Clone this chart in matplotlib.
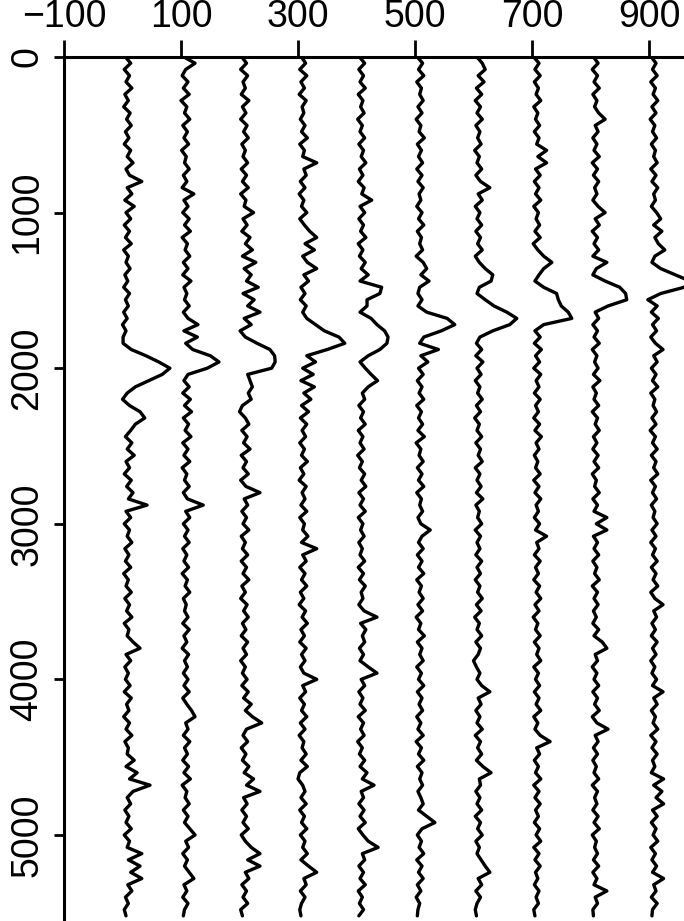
import numpy as np
import matplotlib
matplotlib.use("Agg")
import matplotlib.pyplot as plt
from matplotlib import font_manager

# ---------------- data (offsets, x-units) ----------------
trace_positions = [0, 100, 200, 300, 400, 500, 600, 700, 800, 900]
depth_step = 40
x_ticks = [-100, 100, 300, 500, 700, 900]
y_ticks = [0, 1000, 2000, 3000, 4000, 5000]

trace_0 = [5, 14, 3, 12, 6, 16, 4, 10, 2, 13, 7, 15, 5, 11, 3, 14, 8, 18, 6, 12,
           33, 8, 16, 4, 20, 6, 14, 3, 12, 5, 15, 2, 10, 6, 13, 4, 9, 2, 12, 5,
           10, 2, 8, 0, 6, 1,
           1, 15, 40, 62, 81, 68, 45, 22, 8, 0, 12, 30, 38, 22, 14,
           5, 16, 8, 20, 6, 12, 3, 15, 7, 18, 10, 42, 6, 14, 3, 12, 8, 16, 4,
           11, 5, 14, 2, 10, 6, 15, 4, 12, 7, 16, 3, 11, 8, 18, 30, 6, 14, 4, 10,
           5, 13, 3, 15, 7, 11, 2, 12, 6, 16, 4, 10, 8, 20, 6, 25, 12, 47, 18, 8,
           14, 4, 11, 6, 15, 3, 12, 8, 33, 10, 30, 14, 33, 9, 16, 5, 10, 3, 6]

trace_1 = [5, 24, 8, 2, 12, 4, 14, 0, 10, 6, 15, 3, 11, 5, 13, 1, 9, 6, 14, 4,
           10, 2, 22, 5, 12, 3, 14, 6, 16, 2, 11, 7, 15, 4, 12, 3, 17, 5, 10, 6,
           14, 4, 12, 29, 5, 28, 8,
           20, 50, 65, 45, 12, 5,
           14, 3, 16, 6, 18, 4, 13, 7, 17, 3, 12, 5, 15, 2, 10, 6, 14, 4, 11,
           38, 8, 15, 4, 12, 6, 14, 3, 10, 5, 13, 2, 11, 7, 15, 4, 9, 6, 12, 3, 14, 5, 10, 2, 13, 6, 11, 4,
           12, 5, 14, 3, 10, 18, 24, 8, 12, 4, 15, 6, 11, 3, 13, 5, 16, 2, 10, 7,
           14, 4, 12, 6, 15, 24, 8, 13, 3, 11, 6, 14, 22, 5, 10, 3, 12, 6, 4]

trace_2 = [4, 12, 2, 14, 6, 10, 3, 16, 5, 11, 2, 13, 7, 15, 4, 10, 6, 14, 3, 12,
           5, 15, 2, 11, 8, 24, 6, 13, 4, 18, 10, 22, 5, 28, 8, 20, 12, 32, 6, 25, 14, 35, 8, 20,
           1, 10, 30, 52, 60, 61, 55, 14, 18, 22, 15, 20, 5, 0, 10,
           16, 4, 13, 7, 18, 3, 12, 6, 15, 2, 11, 35, 8, 14, 4, 12, 6, 16, 3, 10, 5,
           14, 3, 12, 6, 16, 4, 10, 2, 13, 7, 15, 5, 11, 3, 14, 6, 12, 2, 10, 5,
           13, 4, 15, 7, 20, 10, 22, 38, 12, 6, 14, 3, 11, 5, 16, 8, 24, 12, 35, 7,
           13, 4, 12, 6, 15, 3, 10, 20, 35, 14, 35, 10, 16, 4, 12, 6, 14, 2, 5]

trace_3 = [6, 13, 3, 15, 5, 11, 2, 14, 7, 10, 4, 12, 6, 16, 3, 11, 8, 32, 10, 14,
           4, 12, 2, 10, 6, 15, 3, 11, 20, 32, 12, 28, 8, 16, 32, 10, 18, 5, 12, 4, 14, 8,
           15, 30, 45, 70, 80, 50, 15,
           30, 8, 26, 5, 28, 10, 22, 6, 18, 4, 15, 7,
           13, 3, 11, 6, 16, 4, 10, 2, 14, 7, 12, 5, 15, 3, 11, 8, 17, 6, 32,
           8, 14, 3, 12, 6, 15, 4, 10, 2, 13, 7, 16, 5, 11, 3, 14, 6, 12, 4, 10,
           32, 8, 13, 3, 11, 6, 15, 4, 12, 2, 10, 7, 14, 5, 16, 3, 0, 8, 12, 5,
           14, 3, 11, 6, 15, 4, 12, 8, 16, 5, 18, 32, 10, 14, 4, 12, 6, 3, 5]

trace_4 = [5, 14, 4, 12, 6, 15, 3, 11, 7, 13, 2, 10, 6, 14, 4, 12, 8, 16, 5, 11,
           3, 13, 9, 26, 6, 14, 4, 12, 7, 16, 3, 11, 5, 15, 8, 20, 6, 43, 40, 18,
           18, 6, 25, 35, 48, 54, 52, 40, 20, 6, 15, 25, 36, 20, 10,
           14, 4, 12, 7, 15, 3, 11, 6, 13, 2, 10, 5, 14, 8, 16, 4, 12, 6, 15, 3, 11, 7, 13, 4, 10,
           6, 14, 3, 12, 5, 15, 8, 11, 4, 13, 35, 7, 16, 10, 14, 5, 12, 6, 20, 35,
           8, 14, 4, 11, 6, 15, 3, 12, 7, 13, 2, 10, 5, 14, 6, 18, 10, 30, 8, 12,
           4, 13, 6, 15, 3, 11, 20, 37, 10, 14, 4, 12, 6, 15, 3, 10, 5, 12, 4]

trace_5 = [4, 13, 6, 15, 3, 11, 8, 14, 5, 12, 2, 10, 7, 16, 4, 11, 6, 13, 3, 12,
           5, 14, 7, 10, 3, 12, 6, 15, 4, 11, 8, 13, 2, 14, 20, 10, 24, 8, 5, 12, 5,
           20, 55, 68, 45, 15, 8, 40, 10, 22, 6,
           14, 4, 12, 7, 15, 3, 11, 6, 13, 5, 16, 2, 10, 7, 14, 4, 12, 6, 15, 3,
           11, 8, 13, 5, 10, 26, 12, 6, 14,
           4, 12, 6, 15, 3, 11, 7, 14, 5, 13, 2, 10, 6, 16, 4, 12, 8, 14, 3, 11,
           6, 15, 4, 12, 7, 13, 3, 10, 5, 14, 2, 11, 6, 15, 4, 12, 8, 13, 5, 10,
           14, 6, 20, 34, 12, 4, 11, 7, 15, 3, 12, 6, 14, 4, 10, 2, 8, 5, 4]

trace_6 = [6, 15, 20, 8, 18, 5, 14, 3, 12, 6, 15, 4, 11, 7, 13, 2, 10, 6, 14, 4,
           12, 28, 8, 15, 3, 11, 6, 14, 4, 12, 7, 15, 3, 10, 20, 33, 30, 10, 6,
           20, 35, 57, 74, 62, 33, 11, 5,
           14, 4, 16, 6, 13, 3, 11, 7, 15, 5, 12, 2, 10, 6, 14, 4, 12, 8, 15, 3,
           11, 6, 13, 5, 16, 4, 10, 7, 14, 3, 12, 6, 11,
           4, 14, 6, 12, 3, 11, 7, 15, 5, 13, 2, 10, 6, 14, 4, 12, 8, 0, 5, 11,
           6, 14, 28, 8, 13, 4, 11, 6, 15, 3, 12, 7, 14, 5, 16, 30, 10, 12, 4, 11,
           6, 14, 3, 12, 7, 15, 4, 10, 6, 13, 20, 28, 8, 14, 4, 12, 6, 3, 5]

trace_7 = [3, 12, 5, 14, 4, 11, 7, 15, 3, 10, 6, 13, 4, 12, 8, 25, 10, 25, 6, 14,
           4, 12, 6, 15, 3, 11, 7, 13, 5, 14, 2, 10, 20, 34, 20, 12,
           5, 20, 42, 45, 50, 62, 68, 20, 5,
           14, 4, 16, 6, 13, 3, 15, 7, 12, 4, 14, 6, 11, 3, 13, 5, 16, 7, 12, 4,
           10, 6, 14, 3, 12, 5, 15, 7, 11, 4, 13, 6, 25, 8, 12,
           4, 14, 6, 11, 3, 13, 7, 15, 5, 12, 2, 10, 6, 14, 4, 12, 8, 15, 3, 11,
           6, 13, 4, 12, 7, 15, 3, 10, 5, 14, 31, 8, 13, 4, 11, 6, 15, 3, 12, 5,
           14, 6, 11, 4, 13, 7, 15, 3, 12, 5, 14, 6, 10, 4, 12, 7, 11, 3, 5]

trace_8 = [5, 13, 3, 12, 6, 15, 4, 11, 7, 14, 25, 8, 13, 4, 11, 6, 15, 3, 12, 5,
           14, 7, 11, 4, 13, 25, 8, 15, 3, 12, 6, 14, 4, 28, 10,
           4, 25, 50, 60, 62, 30, 8,
           14, 4, 12, 6, 15, 3, 11, 7, 13, 5, 16, 4, 10, 6, 14, 3, 12, 8, 15, 5,
           11, 4, 13, 6, 14, 3, 10, 7, 15, 4, 12, 6, 28, 10, 28, 5, 12, 6,
           14, 4, 11, 7, 15, 3, 12, 6, 13, 5, 10, 4, 14, 6, 20, 28, 8, 12, 3, 11,
           6, 14, 4, 12, 7, 15, 3, 11, 30, 8, 13, 5, 12, 4, 10, 6, 14, 3, 12, 7,
           11, 4, 13, 6, 15, 3, 10, 7, 12, 5, 14, 4, 11, 6, 28, 8, 12, 4, 5]

trace_9 = [4, 12, 6, 14, 3, 11, 7, 15, 5, 12, 2, 10, 6, 13, 4, 11, 8, 14, 3, 12,
           5, 15, 8, 11, 4, 13, 20, 8, 22, 10, 16, 27, 10, 5,
           20, 45, 70, 60, 20, -2,
           14, 4, 16, 6, 13, 3, 11, 24, 8, 14, 4, 12, 6, 15, 3, 10, 7, 13, 5, 12,
           2, 11, 6, 14, 4, 12, 8, 15, 3, 11, 6, 13, 4, 10, 7, 14, 5, 12, 3, 11,
           6, 14, 4, 12, 7, 15, 3, 10, 24, 8, 13, 5, 11, 4, 14, 6, 12, 3, 10, 5,
           13, 6, 24, 8, 14, 4, 11, 7, 15, 3, 12, 5, 14, 6, 10, 4, 25, 8, 22, 12,
           25, 6, 14, 4, 12, 7, 15, 3, 11, 5, 13, 6, 25, 8, 12, 4, 14, 6, 5]

traces = [trace_0, trace_1, trace_2, trace_3, trace_4,
          trace_5, trace_6, trace_7, trace_8, trace_9]

# ---------------- font ----------------
names = {f.name for f in font_manager.fontManager.ttflist}
if "Liberation Sans Narrow" in names:
    fam = ["Liberation Sans Narrow", "DejaVu Sans"]
else:
    fam = ["Liberation Sans", "DejaVu Sans"]
plt.rcParams["font.family"] = fam

# ---------------- figure ----------------
W, H = 684, 921
fig = plt.figure(figsize=(W / 100, H / 100), dpi=100)
left_px, top_px = 64, 57
ax = fig.add_axes([left_px / W, 0, 1 - left_px / W, 1 - top_px / H])

for pos, vals in zip(trace_positions, traces):
    vals = np.asarray(vals, dtype=float)
    depth = np.arange(len(vals)) * depth_step
    ax.plot(pos + vals, depth, color="black", lw=2.4,
            solid_joinstyle="round", solid_capstyle="round")

px_per_unit = 0.585
ax.set_xlim(-100, -100 + (W - left_px) / px_per_unit)
ax.set_ylim(5553, 0)

for s in ["right", "bottom"]:
    ax.spines[s].set_visible(False)
for s in ["left", "top"]:
    ax.spines[s].set_linewidth(2.2)

ax.xaxis.tick_top()
ax.set_xticks(x_ticks)
ax.set_xticklabels([("\u2212" + str(abs(t))) if t < 0 else str(t) for t in x_ticks])
ax.set_yticks(y_ticks)
ax.set_yticklabels([str(t) for t in y_ticks], rotation=90, va="center")
ax.tick_params(axis="x", direction="out", length=12, width=2, pad=4, labelsize=27)
ax.tick_params(axis="y", direction="out", length=7.5, width=2, pad=6, labelsize=27)

fig.savefig("out.png", dpi=100)
